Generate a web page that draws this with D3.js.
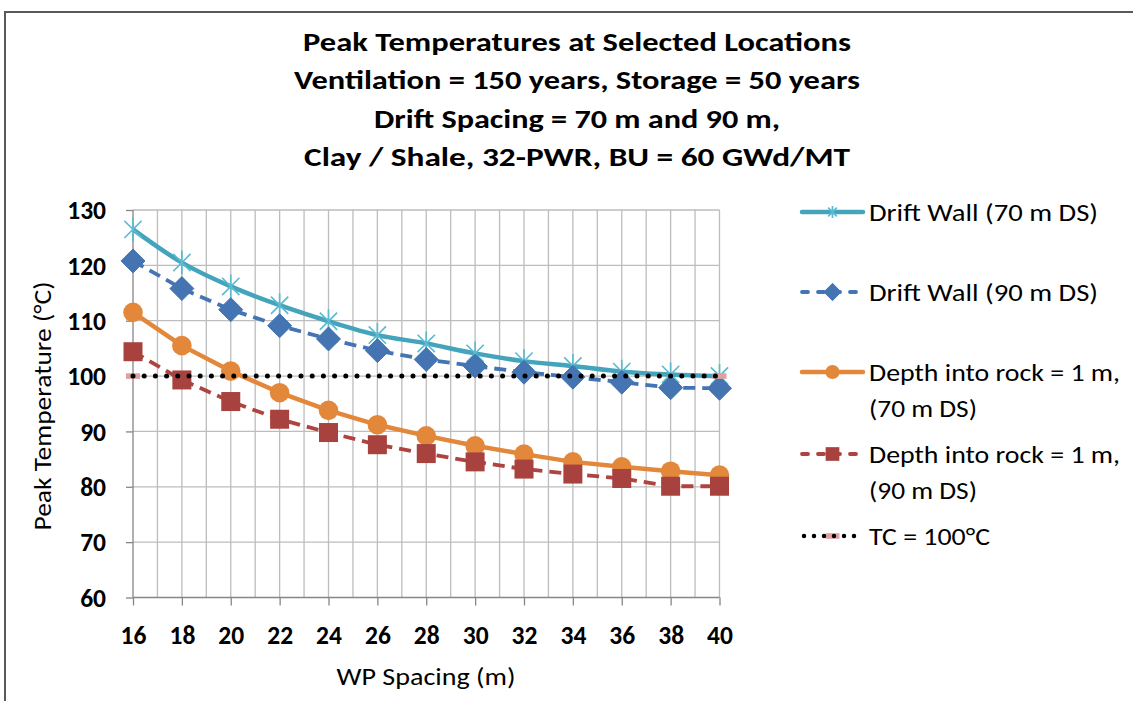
<!DOCTYPE html>
<html>
<head>
<meta charset="utf-8">
<script src="https://cdn.jsdelivr.net/npm/d3@7"></script>
<style>
  html, body { margin: 0; padding: 0; background: #fff; }
  svg { display: block; }
  text { font-family: Carlito, Calibri, Lato, sans-serif; fill: #000; }
</style>
</head>
<body>
<svg id="chart" width="1133" height="701"></svg>
<script>
// WP spacing (m)
const spacing = [16, 18, 20, 22, 24, 26, 28, 30, 32, 34, 36, 38, 40];

// Peak temperatures (°C)
const driftWall70 = [126.5, 120.5, 116.2, 112.8, 109.9, 107.4, 105.9, 104.1, 102.7, 101.8, 100.8, 100.3, 100.0];
const driftWall90 = [120.8, 115.8, 112.0, 109.1, 106.7, 104.6, 103.0, 101.8, 100.7, 99.8, 98.9, 97.9, 97.8];
const depth1m70   = [111.5, 105.5, 100.9, 97.0, 93.8, 91.2, 89.2, 87.4, 85.9, 84.5, 83.6, 82.8, 82.1];
const depth1m90   = [104.4, 99.3, 95.4, 92.2, 89.8, 87.6, 86.0, 84.5, 83.2, 82.3, 81.5, 80.1, 80.1];

// Thermal constraint line
const tcSpacing = [16, 40];
const tcValue   = [100, 100];

const xTicks = [16, 18, 20, 22, 24, 26, 28, 30, 32, 34, 36, 38, 40];
const yTicks = [60, 70, 80, 90, 100, 110, 120, 130];

const titleLines = [
  "Peak Temperatures at Selected Locations",
  "Ventilation = 150 years, Storage = 50 years",
  "Drift Spacing = 70 m and 90 m,",
  "Clay / Shale, 32-PWR, BU = 60 GWd/MT"
];
const xTitle = "WP Spacing (m)";
const yTitle = "Peak Temperature (°C)";

const seriesNames = [
  ["Drift Wall (70 m DS)"],
  ["Drift Wall (90 m DS)"],
  ["Depth into rock = 1 m,", "(70 m DS)"],
  ["Depth into rock = 1 m,", "(90 m DS)"],
  ["TC = 100°C"]
];

// ---- build series table ----
const zip = (xs, ys) => xs.map((x, i) => ({ x, y: ys[i] }));
const series = [
  { name: seriesNames[0], pts: zip(spacing, driftWall70), color: "#43a4bc", width: 4.5, dash: null, marker: "star", markerColor: "#5cbad1", smooth: true },
  { name: seriesNames[1], pts: zip(spacing, driftWall90), color: "#4374b3", width: 3.8, dash: "12,7", marker: "diamond", markerColor: "#4574b2" },
  { name: seriesNames[2], pts: zip(spacing, depth1m70), color: "#e3883a", width: 4.5, dash: null, marker: "circle", markerColor: "#e3883a" },
  { name: seriesNames[3], pts: zip(spacing, depth1m90), color: "#ae433f", width: 3.8, dash: "12,7", marker: "square", markerColor: "#a8423f" },
  { name: seriesNames[4], pts: zip(tcSpacing, tcValue), color: "#000", width: 5, dash: "0,11.2", cap: "round", marker: "dash", markerColor: "#dfa0a0" }
];

const svg = d3.select("#chart");

// outer chart frame
svg.append("rect")
  .attr("x", 5).attr("y", 12).attr("width", 1200).attr("height", 800)
  .attr("fill", "#fff").attr("stroke", "#595959").attr("stroke-width", 2);

const plot = { left: 133, right: 719.5, top: 210, bottom: 597.5 };
const x = d3.scaleLinear().domain([16, 40]).range([plot.left, plot.right]);
const y = d3.scaleLinear().domain([60, 130]).range([plot.bottom, plot.top]);

// fit text to a target width
function fit(sel, w) { if (w) sel.attr("textLength", w).attr("lengthAdjust", "spacingAndGlyphs"); return sel; }

// ---- gridlines ----
const grid = svg.append("g");
grid.selectAll("line.v").data(d3.range(17, 41, 1)).join("line")
  .attr("x1", d => x(d)).attr("x2", d => x(d))
  .attr("y1", plot.top).attr("y2", plot.bottom)
  .attr("stroke", "#bdbdbd").attr("stroke-width", 1.3);
grid.selectAll("line.h").data(yTicks.filter(v => v > 60)).join("line")
  .attr("x1", plot.left).attr("x2", plot.right)
  .attr("y1", d => y(d)).attr("y2", d => y(d))
  .attr("stroke", "#bdbdbd").attr("stroke-width", 1.3);

// ---- axes ----
const xAxis = d3.axisBottom(x).tickValues(xTicks).tickSize(8).tickFormat(d3.format("d"));
const yAxis = d3.axisLeft(y).tickValues(yTicks).tickSize(7).tickFormat(d3.format("d"));

const gx = svg.append("g").attr("transform", `translate(0,${plot.bottom})`).call(xAxis);
const gy = svg.append("g").attr("transform", `translate(${plot.left},0)`).call(yAxis);
[gx, gy].forEach(g => {
  g.select(".domain").attr("stroke", "#868686").attr("stroke-width", 1.3);
  g.selectAll(".tick line").attr("stroke", "#868686").attr("stroke-width", 1.3);
  g.selectAll(".tick text").attr("font-size", 25.5).attr("font-weight", "bold").attr("fill", "#111")
    .style("font-family", "Carlito, Calibri, Lato, sans-serif");
});
gx.select(".domain").attr("d", `M${plot.left},0H${plot.right}`);
gy.select(".domain").attr("d", `M0,${plot.top}V${plot.bottom}`);
gx.selectAll(".tick text").attr("y", 28).attr("dy", "0.71em");
gy.selectAll(".tick text").attr("x", -27).attr("dy", "0.34em");

// ---- series ----
const marks = svg.append("g");
const starPath = r => {
  const a = r * 0.72;
  return `M${-a},${-a}L${a},${a}M${-a},${a}L${a},${-a}M0,${-r}L0,${r}`;
};
function drawMarker(g, s, cx, cy, scale = 1) {
  const c = s.markerColor;
  if (s.marker === "star") {
    g.append("path").attr("d", starPath(12 * scale)).attr("transform", `translate(${cx},${cy})`)
      .attr("stroke", c).attr("stroke-width", 1.7).attr("fill", "none");
  } else if (s.marker === "diamond") {
    const r = 12 * scale;
    g.append("path").attr("d", `M0,${-r}L${r},0L0,${r}L${-r},0Z`).attr("transform", `translate(${cx},${cy})`)
      .attr("fill", c).attr("stroke", c).attr("stroke-width", 1);
  } else if (s.marker === "circle") {
    g.append("circle").attr("cx", cx).attr("cy", cy).attr("r", 9.8 * scale).attr("fill", c);
  } else if (s.marker === "square") {
    const h = 9.5 * scale;
    g.append("rect").attr("x", cx - h).attr("y", cy - h).attr("width", 2 * h).attr("height", 2 * h).attr("fill", c);
  } else if (s.marker === "dash") {
    g.append("rect").attr("x", cx - 7).attr("y", cy - 2.8).attr("width", 14).attr("height", 5.6).attr("fill", c);
  }
}

series.forEach(s => {
  const line = d3.line().x(d => x(d.x)).y(d => y(d.y))
    .curve(s.smooth ? d3.curveCatmullRom.alpha(0.5) : d3.curveLinear);
  const g = marks.append("g");
  if (s.marker === "dash") {
    s.pts.forEach(p => drawMarker(g, s, x(p.x), y(p.y)));
  }
  g.append("path").datum(s.pts).attr("d", line)
    .attr("fill", "none").attr("stroke", s.color).attr("stroke-width", s.width)
    .attr("stroke-linecap", s.cap || "butt").attr("stroke-linejoin", "round")
    .attr("stroke-dasharray", s.dash);
  if (s.marker !== "dash") {
    s.pts.forEach(p => drawMarker(g, s, x(p.x), y(p.y)));
  }
});

// ---- titles ----
const titleWidths = [548, 566, 406, 546];
const titleY = [42, 80, 118.5, 157];
titleLines.forEach((t, i) => {
  fit(svg.append("text").attr("x", 577).attr("y", titleY[i]).attr("dy", "0.36em")
    .attr("text-anchor", "middle").attr("font-size", 26).attr("font-weight", "bold").text(t), titleWidths[i]);
});

fit(svg.append("text").attr("x", 426).attr("y", 676).attr("dy", "0.36em")
  .attr("text-anchor", "middle").attr("font-size", 25).text(xTitle), 179);
fit(svg.append("text").attr("transform", "translate(42,406) rotate(-90)").attr("dy", "0.36em")
  .attr("text-anchor", "middle").attr("font-size", 25).text(yTitle), 249);

// ---- legend ----
const legend = svg.append("g");
const legRows = [212, 292, 372, 454, 536];
const legWidths = [[229], [229], [251, 108], [251, 108], [121]];
series.forEach((s, i) => {
  const cy = legRows[i];
  const g = legend.append("g");
  const x0 = 802, x1 = 863, xm = (x0 + x1) / 2;
  if (s.marker === "dash") {
    drawMarker(g, s, xm, cy);
    g.append("line").attr("x1", x0 + 2).attr("x2", x1).attr("y1", cy).attr("y2", cy)
      .attr("stroke", s.color).attr("stroke-width", 4.5)
      .attr("stroke-linecap", "round").attr("stroke-dasharray", "0,10");
  } else {
    g.append("line").attr("x1", x0).attr("x2", x1).attr("y1", cy).attr("y2", cy)
      .attr("stroke", s.color).attr("stroke-width", s.dash ? 3.8 : 4.5)
      .attr("stroke-linecap", "round")
      .attr("stroke-dasharray", s.dash ? "6,10" : null);
    drawMarker(g, s, xm, cy, s.marker === "star" ? 0.5 : 0.72);
  }
  s.name.forEach((t, j) => {
    fit(g.append("text").attr("x", 869).attr("y", cy + j * 36).attr("dy", "0.36em")
      .attr("font-size", 25).text(t), legWidths[i][j]);
  });
});
</script>
</body>
</html>
